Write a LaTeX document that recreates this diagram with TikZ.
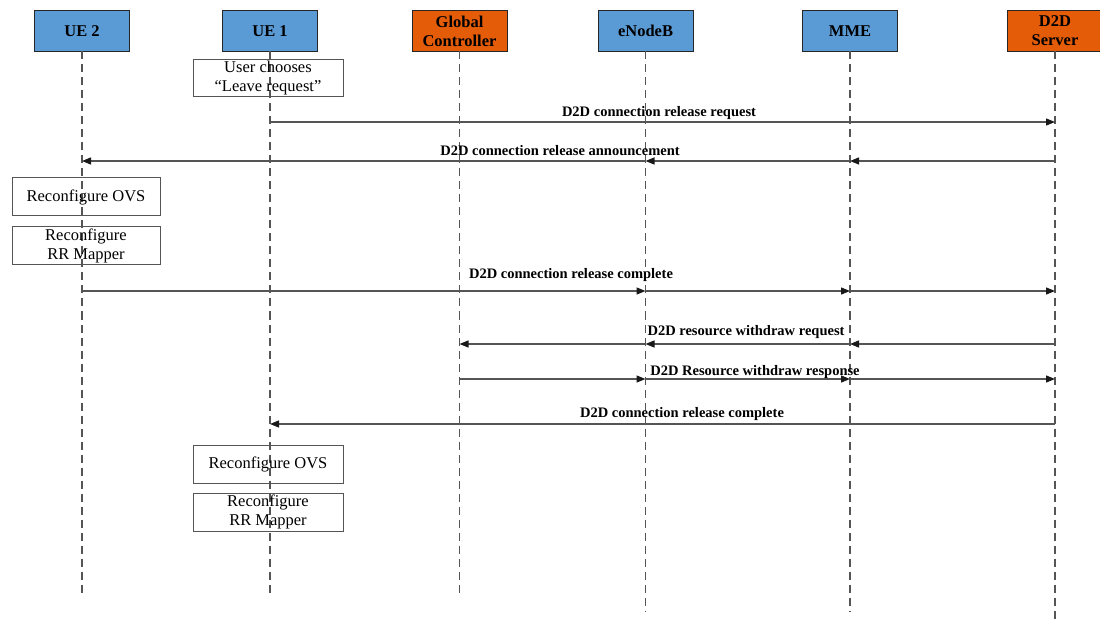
\documentclass[tikz,border=0pt]{standalone}
\usepackage{fontspec}
\setmainfont{Liberation Serif}
\usetikzlibrary{arrows.meta,positioning}
\definecolor{lifeblue}{RGB}{91,155,213}
\definecolor{lifeorange}{RGB}{228,92,8}
\definecolor{wire}{RGB}{85,85,85}
\tikzset{
	actor/.style={draw=black!85,line width=0.9pt,minimum width=95pt,minimum height=41pt,
		inner sep=0pt,outer sep=0pt,align=center,font=\fontsize{16.5}{19}\selectfont\bfseries},
	actor blue/.style={actor,fill=lifeblue},
	actor orange/.style={actor,fill=lifeorange},
	lifeline/.style={draw=wire,line width=1.1pt,dash pattern=on 8pt off 5pt},
	actbox/.style={draw=wire,line width=1pt,minimum width=150pt,minimum height=38pt,
		inner sep=0pt,outer sep=0pt,align=center,font=\fontsize{16.5}{19}\selectfont},
	msg/.style={draw=wire,line width=1.3pt,-{Triangle[length=9pt,width=7pt,fill=black!90,color=black!90]}},
	msglabel/.style={font=\fontsize{14.5}{16}\selectfont\bfseries,inner sep=0pt}
}

\begin{document}
\begin{tikzpicture}[x=1pt,y=-1pt]
	\useasboundingbox (0,0) rectangle (1100,620);
	\node [actor blue] (ue2) at (82,31) {UE 2};
	\node [actor blue, right=93pt of ue2] (ue1) {UE 1};
	\node [actor orange, right=94.5pt of ue1] (gc) {Global\\Controller};
	\node [actor blue, right=91pt of gc] (enb) {eNodeB};
	\node [actor blue, right=109.5pt of enb] (mme) {MME};
	\node [actor orange, right=110pt of mme] (srv) {D2D\\Server};
	\foreach \n/\e in {ue2/597,ue1/597,gc/597,enb/612,mme/612,srv/625}{
		\coordinate (\n-end) at (\n |- 0,\e);
		\draw [lifeline] (\n) -- (\n-end);
		\foreach \r/\y in {1/122,2/161,3/291,4/344,5/379,6/424}
			\coordinate (\n-\r) at (\n |- 0,\y);
	}
	\node [actbox, minimum height=37pt] (choose) at (268,78.5) {User chooses\\``Leave request''};
	\node [actbox, minimum width=148pt] (ovs2) at (86,197) {Reconfigure OVS};
	\node [actbox, minimum width=148pt, below=11pt of ovs2] (rr2) {Reconfigure\\RR Mapper};
	\node [actbox] (ovs1) at (268,464) {Reconfigure OVS};
	\node [actbox, below=10pt of ovs1] (rr1) {Reconfigure\\RR Mapper};
	\draw [msg] (ue1-1) -- (srv-1);
	\draw [msg] (srv-2) -- (mme-2);
	\draw [msg] (mme-2) -- (enb-2);
	\draw [msg] (enb-2) -- (ue2-2);
	\draw [msg] (ue2-3) -- (enb-3);
	\draw [msg] (enb-3) -- (mme-3);
	\draw [msg] (mme-3) -- (srv-3);
	\draw [msg] (srv-4) -- (mme-4);
	\draw [msg] (mme-4) -- (enb-4);
	\draw [msg] (enb-4) -- (gc-4);
	\draw [msg] (gc-5) -- (enb-5);
	\draw [msg] (enb-5) -- (mme-5);
	\draw [msg] (mme-5) -- (srv-5);
	\draw [msg] (srv-6) -- (ue1-6);
	\node [msglabel] (l1) at (659,113) {D2D connection release request};
	\node [msglabel] (l2) at (560,151) {D2D connection release announcement};
	\node [msglabel] (l3) at (571,275) {D2D connection release complete};
	\node [msglabel] (l4) at (746,332) {D2D resource withdraw request};
	\node [msglabel] (l5) at (755,372) {D2D Resource withdraw response};
	\node [msglabel] (l6) at (682,414) {D2D connection release complete};
\end{tikzpicture}
\end{document}
